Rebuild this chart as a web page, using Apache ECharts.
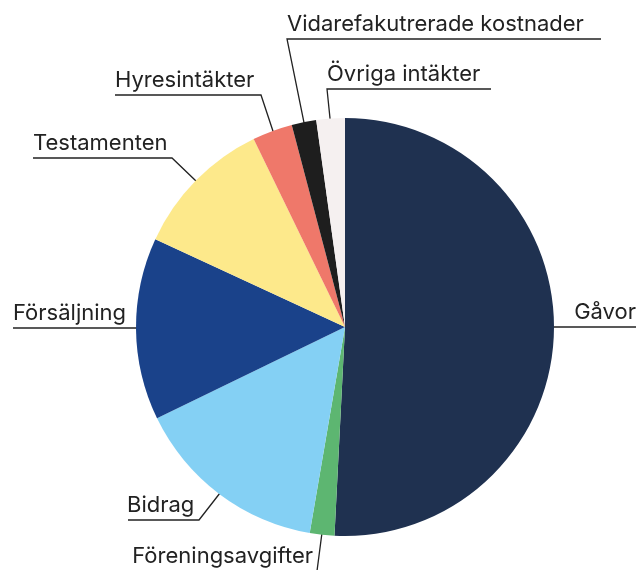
<!DOCTYPE html>
<html>
<head>
<meta charset="utf-8">
<script src="https://cdn.jsdelivr.net/npm/echarts@6/dist/echarts.min.js"></script>
<style>
  html, body { margin: 0; padding: 0; background: #ffffff; }
  #chart { width: 638px; height: 570px; }
</style>
</head>
<body>
<div id="chart"></div>
<script>
// ---- data ----
const categories = ['Gåvor', 'Föreningsavgifter', 'Bidrag', 'Försäljning', 'Testamenten', 'Hyresintäkter', 'Vidarefakutrerade kostnader', 'Övriga intäkter'];
const values = [50.8, 1.9, 15.1, 14.1, 10.9, 3.1, 1.9, 2.2];
const colors = ['#1f3150', '#5db671', '#84d0f4', '#1a428a', '#fde98b', '#ef786a', '#1e1e1e', '#f5f0f0'];

// ---- layout (pixel geometry of labels / guides) ----
const CX = 345, CY = 327, R = 209;
const INNER = 0.92;
// connect: underline end nearest to pie, other: far underline end, uy: underline y
const guides = [
  { horizontal: true, uy: 327, other: 636, textX: 636, align: 'right' },
  { connect: 317, other: 123, uy: 571, textX: 313, align: 'right' },
  { connect: 199, other: 128, uy: 520, textX: 127, align: 'left' },
  { horizontal: true, uy: 328, other: 13, textX: 13, align: 'left' },
  { connect: 172, other: 33, uy: 158, textX: 33, align: 'left' },
  { connect: 261, other: 115, uy: 95, textX: 115, align: 'left' },
  { connect: 287, other: 601, uy: 39, textX: 287, align: 'left' },
  { connect: 327, other: 491, uy: 89, textX: 327, align: 'left' }
];

const total = values.reduce((a, b) => a + b, 0);
const midAngles = [];
let acc = 0;
values.forEach(v => { midAngles.push((acc + v / 2) / total * 2 * Math.PI); acc += v; });

const chart = echarts.init(document.getElementById('chart'), null, { renderer: 'canvas' });
chart.setOption({
  animation: false,
  backgroundColor: '#ffffff',
  color: colors,
  series: [{
    type: 'pie',
    center: [CX, CY],
    radius: [0, R],
    startAngle: 90,
    clockwise: true,
    avoidLabelOverlap: false,
    emphasis: { disabled: true },
    itemStyle: { borderWidth: 0 },
    label: {
      show: true,
      position: 'outside',
      formatter: '{b}',
      fontFamily: 'Inter',
      fontSize: 22,
      color: '#222222',
      lineHeight: 24
    },
    labelLine: {
      show: true,
      length: 10,
      length2: 10,
      lineStyle: { color: '#222222', width: 1.3 }
    },
    labelLayout: function (params) {
      const i = params.dataIndex;
      const g = guides[i];
      const a = midAngles[i];
      const ix = CX + Math.sin(a) * R * INNER;
      const iy = CY - Math.cos(a) * R * INNER;
      let pts;
      if (g.horizontal) {
        pts = [[ix, g.uy], [ix, g.uy], [g.other, g.uy]];
      } else {
        pts = [[ix, iy], [g.connect, g.uy], [g.other, g.uy]];
      }
      return {
        x: g.textX,
        y: g.uy - 3,
        align: g.align,
        verticalAlign: 'bottom',
        labelLinePoints: pts
      };
    },
    data: categories.map((c, i) => ({ name: c, value: values[i] }))
  }]
});
</script>
</body>
</html>
